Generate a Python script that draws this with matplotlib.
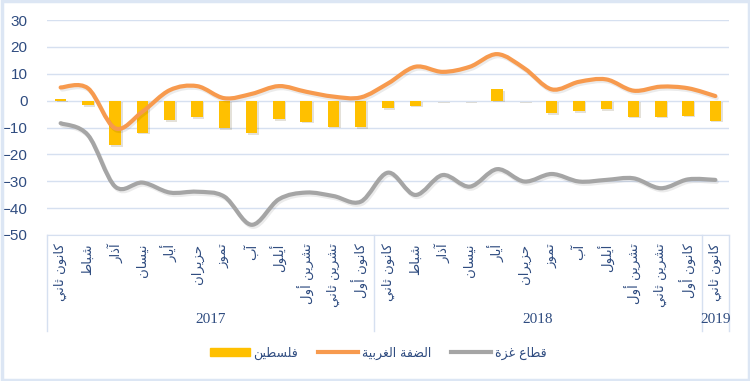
import matplotlib
matplotlib.use("Agg")
import matplotlib.pyplot as plt
import matplotlib.patheffects as pe
from matplotlib.path import Path
from matplotlib.patches import PathPatch, Rectangle
from matplotlib.lines import Line2D
import numpy as np

# البيانات: 2017-01 .. 2019-01
months = ["كانون ثاني", "شباط", "آذار", "نيسان", "أيار", "حزيران",
          "تموز", "آب", "أيلول", "تشرين أول", "تشرين ثاني", "كانون أول"]
categories = months + months + ["كانون ثاني"]
years = ["2017", "2018", "2019"]
year_spans = [(0, 11), (12, 23), (24, 24)]

palestine = [0.6, -1.6, -16.5, -11.9, -7.2, -6.2, -10.3, -12.2, -6.8, -7.8, -9.7, -9.9,
             -2.9, -1.9, -0.3, -0.3, 4.3, -0.3, -4.7, -3.8, -3.2, -6.0, -6.0, -5.6, -7.5]
west_bank = [4.9, 4.6, -10.3, -4.1, 3.9, 5.4, 0.9, 2.5, 5.4, 3.3, 1.5, 1.2,
             6.4, 12.6, 10.7, 12.6, 17.3, 12.0, 4.2, 7.0, 7.9, 3.7, 5.2, 4.6, 1.7]
gaza = [-8.4, -12.8, -32.0, -30.5, -34.2, -33.9, -35.7, -46.2, -36.7, -34.2, -35.5, -37.6,
        -26.8, -35.1, -27.7, -32.0, -25.5, -30.1, -27.3, -30.1, -29.5, -28.9, -32.6, -29.3, -29.5]

series_names = ["فلسطين", "الضفة الغربية", "قطاع غزة"]

# تشكيل الحروف العربية يدويا (matplotlib لا يقوم بذلك)
DUAL = {'ب': 0xFE8F, 'ت': 0xFE95, 'ث': 0xFE99, 'ح': 0xFEA1, 'س': 0xFEB1, 'ش': 0xFEB5,
        'ض': 0xFEBD, 'ط': 0xFEC1, 'ع': 0xFEC9, 'غ': 0xFECD, 'ف': 0xFED1, 'ق': 0xFED5,
        'ك': 0xFED9, 'ل': 0xFEDD, 'م': 0xFEE1, 'ن': 0xFEE5, 'ي': 0xFEF1, 'ه': 0xFEE9}
RIGHT = {'ا': 0xFE8D, 'آ': 0xFE81, 'أ': 0xFE83, 'ة': 0xFE93, 'د': 0xFEA9, 'ذ': 0xFEAB,
         'ر': 0xFEAD, 'ز': 0xFEAF, 'و': 0xFEED}


def shape(txt):
    out = []
    for i, ch in enumerate(txt):
        prev = txt[i - 1] if i > 0 else ''
        nxt = txt[i + 1] if i + 1 < len(txt) else ''
        join_prev = prev in DUAL and (ch in DUAL or ch in RIGHT)
        join_next = ch in DUAL and (nxt in DUAL or nxt in RIGHT)
        if ch in DUAL:
            base = DUAL[ch]
            if join_prev and join_next:
                out.append(chr(base + 3))
            elif join_prev:
                out.append(chr(base + 1))
            elif join_next:
                out.append(chr(base + 2))
            else:
                out.append(chr(base))
        elif ch in RIGHT:
            out.append(chr(RIGHT[ch] + (1 if join_prev else 0)))
        else:
            out.append(ch)
    return ''.join(reversed(out))


def smooth_path(xs, ys):
    pts = np.column_stack([xs, ys])
    verts = [pts[0]]
    codes = [Path.MOVETO]
    n = len(pts)
    for i in range(n - 1):
        p0 = pts[i - 1] if i > 0 else pts[i]
        p1 = pts[i]
        p2 = pts[i + 1]
        p3 = pts[i + 2] if i + 2 < n else pts[i + 1]
        c1 = p1 + (p2 - p0) / 6.0
        c2 = p2 - (p3 - p1) / 6.0
        verts += [c1, c2, p2]
        codes += [Path.CURVE4] * 3
    return Path(verts, codes)


c_bar = "#FFC000"
c_wb = "#F79A4E"
c_gz = "#A5A5A5"
c_grid = "#D6E0F0"
c_txt = "#2F4C80"

fig = plt.figure(figsize=(7.5, 3.81), dpi=100)
ax = fig.add_axes([47 / 750, 1 - 235 / 381, 682 / 750, 215 / 381])

x = np.arange(len(categories))
shadow = [pe.SimplePatchShadow(offset=(1.2, -1.2), alpha=0.15), pe.Normal()]

ax.bar(x, palestine, width=0.42, color=c_bar, zorder=3, path_effects=shadow)

for vals, col in [(west_bank, c_wb), (gaza, c_gz)]:
    patch = PathPatch(smooth_path(x, vals), fill=False, edgecolor=col, lw=3,
                      capstyle='round', joinstyle='round', zorder=4,
                      path_effects=[pe.SimpleLineShadow(offset=(1, -1.5), alpha=0.08), pe.Normal()])
    ax.add_patch(patch)

ax.set_xlim(-0.5, len(categories) - 0.5)
ax.set_ylim(-50, 30)
ax.set_yticks(range(-50, 31, 10))
ax.grid(axis='y', color=c_grid, lw=1, zorder=0)
ax.set_axisbelow(True)
for s in ['top', 'right', 'left']:
    ax.spines[s].set_visible(False)
ax.spines['bottom'].set_color(c_grid)
ax.set_xticks([])
ax.tick_params(axis='y', length=0, pad=14, labelcolor=c_txt, labelsize=11)
for lab in ax.get_yticklabels():
    lab.set_fontfamily('Liberation Sans')

trans = ax.get_xaxis_transform()
for i, m in enumerate(categories):
    ax.text(i, -0.04, shape(m), rotation=90, ha='center', va='top', transform=trans,
            fontsize=9.5, color=c_txt, family='DejaVu Sans', clip_on=False)

sep_x = [-0.5, 11.5, 23.5, 24.5]
for sx in sep_x:
    ax.plot([sx, sx], [0, -0.445], transform=trans, color=c_grid, lw=1, clip_on=False)

for yr, (a, b) in zip(years, year_spans):
    ax.text((a + b) / 2, -0.395, yr, ha='center', va='center', transform=trans,
            fontsize=11, color=c_txt, family='Liberation Serif')

handles = [Rectangle((0, 0), 1, 1, color=c_bar),
           Line2D([], [], color=c_wb, lw=3),
           Line2D([], [], color=c_gz, lw=3)]
leg = fig.legend(handles, [shape(s) for s in series_names], loc='center',
                 bbox_to_anchor=(378 / 750, 1 - 353 / 381), ncol=3, frameon=False,
                 handlelength=3.2, handletextpad=0.3, columnspacing=1.6,
                 prop={'family': 'DejaVu Sans', 'size': 9})
for t in leg.get_texts():
    t.set_color(c_txt)

fig.patches.append(Rectangle((0.002, 0.003), 0.996, 0.994, transform=fig.transFigure,
                             fill=False, edgecolor='#DCE6F4', lw=2.5))

fig.savefig("out.png", dpi=100)
